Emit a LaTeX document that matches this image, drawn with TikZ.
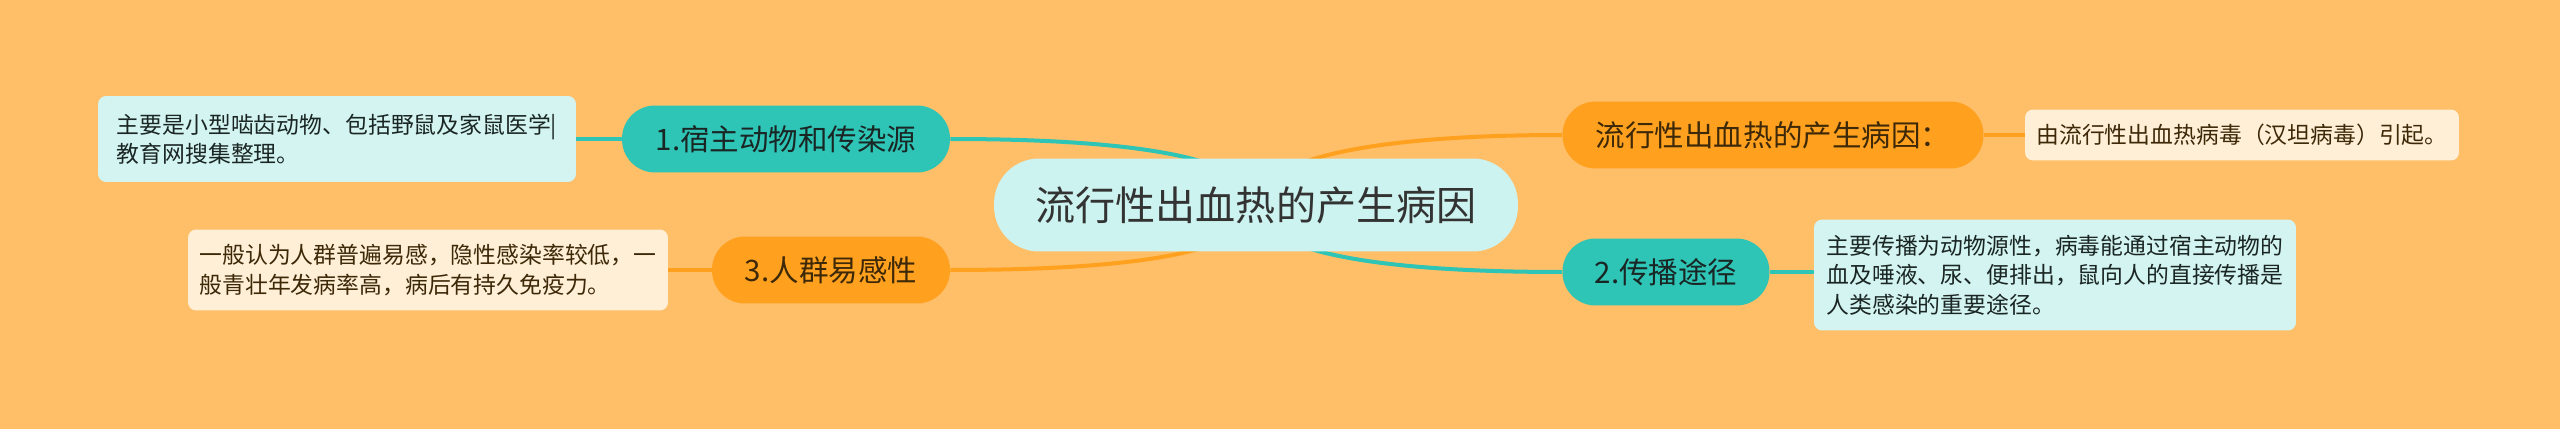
\documentclass[tikz,border=0pt]{standalone}
\usepackage{fontspec}
\setmainfont{Noto Sans CJK SC}
\usepackage{tikz}
\usetikzlibrary{backgrounds}
\definecolor{bgorange}{HTML}{FFBE68}
\definecolor{tealmain}{HTML}{2EC4B6}
\definecolor{orangemain}{HTML}{FFA11F}
\definecolor{rootfill}{HTML}{CCF3EF}
\definecolor{tealleaf}{HTML}{D4F4F1}
\definecolor{orangeleaf}{HTML}{FFEFD6}
\definecolor{tealtext}{HTML}{1A2624}
\definecolor{orangetext}{HTML}{3D2808}
\tikzset{
  rootnode/.style={fill=rootfill, rounded corners=0.9cm, minimum width=10.48cm,
    minimum height=1.86cm, text=black!80, font=\fontsize{22.8}{26}\selectfont},
  branch/.style={rounded corners=0.66cm, minimum height=1.34cm,
    font=\fontsize{16.8}{20}\selectfont},
  tealbranch/.style={branch, fill=tealmain, text=tealtext},
  orangebranch/.style={branch, fill=orangemain, text=orangetext},
  leaf/.style={rounded corners=0.16cm, align=left, font=\fontsize{13}{16.7}\selectfont},
  tealleafnode/.style={leaf, fill=tealleaf, text=tealtext},
  orangeleafnode/.style={leaf, fill=orangeleaf, text=orangetext},
  tealline/.style={draw=tealmain, line width=0.08cm},
  orangeline/.style={draw=orangemain, line width=0.08cm}
}

\begin{document}
\begin{tikzpicture}[x=0.02cm,y=-0.02cm]
  \useasboundingbox (0,0) rectangle (2560,429);
  % centre and main branches
  \node[rootnode] (root) at (1256,205) {流行性出血热的产生病因};
  \node[tealbranch, minimum width=6.56cm] (host) at (786,139) {1.宿主动物和传染源};
  \node[orangebranch, minimum width=4.76cm] (crowd) at (831,270) {3.人群易感性};
  \node[orangebranch, minimum width=8.42cm] (cause) at (1773,135) {流行性出血热的产生病因：};
  \node[tealbranch, minimum width=4.14cm] (route) at (1666,272) {2.传播途径};
  % leaves
  \node[tealleafnode, minimum width=9.56cm, minimum height=1.72cm] (hostleaf) at (337,139)
    {主要是小型啮齿动物、包括野鼠及家鼠医学|\\教育网搜集整理。};
  \node[orangeleafnode, minimum width=9.6cm, minimum height=1.62cm] (crowdleaf) at (428,270)
    {一般认为人群普遍易感，隐性感染率较低，一\\般青壮年发病率高，病后有持久免疫力。};
  \node[orangeleafnode, minimum width=8.68cm, minimum height=1.02cm] (causeleaf) at (2242,135)
    {由流行性出血热病毒（汉坦病毒）引起。};
  \node[tealleafnode, minimum width=9.64cm, minimum height=2.22cm] (routeleaf) at (2055,275)
    {主要传播为动物源性，病毒能通过宿主动物的\\血及唾液、尿、便排出，鼠向人的直接传播是\\人类感染的重要途径。};
  \begin{pgfonlayer}{background}
    \fill[bgorange] (0,0) rectangle (2560,429);
    \draw[tealline] (root.center) .. controls +(0,-43) and +(204,0) .. (host.east);
    \draw[orangeline] (root.center) .. controls +(0,43) and +(204,0) .. (crowd.east);
    \draw[orangeline] (root.center) .. controls +(0,-43) and +(-204,0) .. (cause.west);
    \draw[tealline] (root.center) .. controls +(0,43) and +(-204,0) .. (route.west);
    \draw[tealline] (host.west) -- (hostleaf.east);
    \draw[orangeline] (crowd.west) -- (crowdleaf.east);
    \draw[orangeline] (cause.east) -- (causeleaf.west);
    \draw[tealline] (route.east) -- (route.east -| routeleaf.west);
  \end{pgfonlayer}
\end{tikzpicture}
\end{document}
